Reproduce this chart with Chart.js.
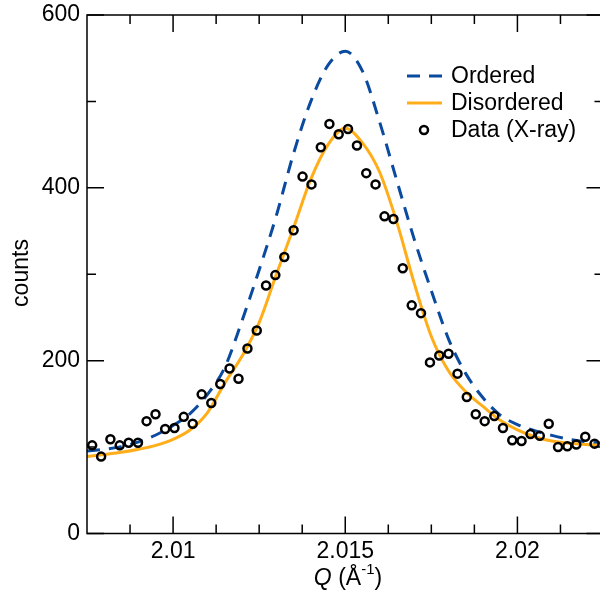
<!DOCTYPE html>
<html>
<head>
<meta charset="utf-8">
<title>Peak profile</title>
<script src="https://cdn.jsdelivr.net/npm/chart.js@4.4.1/dist/chart.umd.min.js"></script>
<style>
    html, body { margin: 0; padding: 0; background: #fff; overflow: hidden; }
    #wrap { position: relative; width: 610px; height: 603px; }
</style>
</head>
<body>
<div id="wrap"><canvas id="peakChart"></canvas></div>
<script>
// Measured diffraction counts (X-ray)
const qData = [
    2.00765, 2.00791, 2.00818, 2.00845, 2.00871, 2.00898, 2.00923, 2.00949, 2.00977, 2.01004,
    2.01031, 2.01057, 2.01083, 2.01111, 2.01137, 2.01164, 2.01190, 2.01216, 2.01243, 2.01270,
    2.01297, 2.01323, 2.01350, 2.01376, 2.01402, 2.01429, 2.01454, 2.01481, 2.01508, 2.01534,
    2.01561, 2.01588, 2.01614, 2.01640, 2.01667, 2.01693, 2.01720, 2.01746, 2.01773, 2.01800,
    2.01826, 2.01853, 2.01879, 2.01905, 2.01933, 2.01958, 2.01985, 2.02012, 2.02038, 2.02065,
    2.02091, 2.02118, 2.02145, 2.02171, 2.02197, 2.02224
];
const countsData = [
    102, 89, 109, 102, 105, 105, 130, 138, 121, 122,
    135, 127, 161, 151, 173, 191, 179, 214, 235, 287,
    299, 320, 351, 413, 404, 447, 474, 462, 468, 449,
    417, 404, 367, 364, 307, 264, 255, 198, 206, 208,
    185, 158, 138, 130, 136, 122, 108, 107, 115, 113,
    127, 100, 101, 103, 112, 104
];

// Model curves on a common Q grid
const qModel = [
    2.0075, 2.0080, 2.0085, 2.0090, 2.0095, 2.0100, 2.0105, 2.0110, 2.0115, 2.0120,
    2.0125, 2.0130, 2.0135, 2.0140, 2.0145, 2.0150, 2.0155, 2.0160, 2.0165, 2.0170,
    2.0175, 2.0180, 2.0185, 2.0190, 2.0195, 2.0200, 2.0205, 2.0210, 2.0215, 2.0220,
    2.0225
];
const orderedFit = [
    95.5, 97.5, 100.5, 106, 114, 125, 139, 161, 192, 246,
    305, 368, 440, 500, 542, 558, 535, 476, 408, 341,
    281, 225, 185, 157, 137, 126, 119, 113.5, 109, 106,
    104.5
];
const disorderedFit = [
    89, 91.5, 94, 97.5, 102, 109, 120, 140, 174, 205,
    244, 300, 354, 410, 450, 469, 452, 418, 360, 290,
    228, 188, 164, 147, 131, 120, 112, 107, 104.5, 103,
    102
];

// Axis ticks
const xMajor = [2.01, 2.015, 2.02];
const xLabels = ['2.01', '2.015', '2.02'];
const xMinor = [2.00875, 2.01125, 2.0125, 2.01375, 2.01625, 2.0175, 2.01875, 2.02125];
const yMajor = [0, 200, 400, 600];
const yMinor = [100, 300, 500];

const seriesNames = ['Ordered', 'Disordered', 'Data (X-ray)'];
const BLUE = '#0a4a9f';
const ORANGE = '#ffae1a';
const FONT = '"Liberation Sans", Arial, Helvetica, sans-serif';

const toPoints = (xs, ys) => xs.map((x, i) => ({ x: x, y: ys[i] }));

// Frame with inward ticks on all four sides, plus axis titles
const framePlugin = {
    id: 'frame',
    afterDatasetsDraw(chart) {
        const ctx = chart.ctx;
        const { left, right, top, bottom } = chart.chartArea;
        const xs = chart.scales.x;
        const ys = chart.scales.y;
        const MAJ = 17, MIN = 9;

        ctx.save();
        ctx.strokeStyle = '#000';
        ctx.lineWidth = 1.5;
        ctx.strokeRect(left, top, right - left, bottom - top);

        ctx.beginPath();
        const xTick = (v, len) => {
            const px = xs.getPixelForValue(v);
            ctx.moveTo(px, bottom); ctx.lineTo(px, bottom - len);
            ctx.moveTo(px, top); ctx.lineTo(px, top + len);
        };
        const yTick = (v, len) => {
            const py = ys.getPixelForValue(v);
            ctx.moveTo(left, py); ctx.lineTo(left + len, py);
            ctx.moveTo(right, py); ctx.lineTo(right - len, py);
        };
        xMajor.forEach(v => xTick(v, MAJ));
        xMinor.forEach(v => xTick(v, MIN));
        yMajor.forEach(v => yTick(v, MAJ));
        yMinor.forEach(v => yTick(v, MIN));
        ctx.stroke();

        // x title: Q (Å^-1)
        ctx.fillStyle = '#000';
        ctx.textBaseline = 'alphabetic';
        ctx.textAlign = 'left';
        const big = '23px ' + FONT;
        const sup = '15px ' + FONT;
        ctx.font = 'italic ' + big;
        const wQ = ctx.measureText('Q').width;
        ctx.font = big;
        const wA = ctx.measureText(' (Å').width;
        const wP = ctx.measureText(')').width;
        ctx.font = sup;
        const wS = ctx.measureText('-1').width;
        let x = 348 - (wQ + wA + wS + wP) / 2;
        const base = 585;
        ctx.font = 'italic ' + big;
        ctx.fillText('Q', x, base); x += wQ;
        ctx.font = big;
        ctx.fillText(' (Å', x, base); x += wA;
        ctx.font = sup;
        ctx.fillText('-1', x, base - 11); x += wS;
        ctx.font = big;
        ctx.fillText(')', x, base);

        // y title
        ctx.translate(22, 273);
        ctx.rotate(-Math.PI / 2);
        ctx.textAlign = 'center';
        ctx.textBaseline = 'middle';
        ctx.font = big;
        ctx.fillText('counts', 0, 0);
        ctx.restore();
    }
};

// Legend inside the plot, top right
const legendPlugin = {
    id: 'insideLegend',
    afterDraw(chart) {
        const ctx = chart.ctx;
        const x0 = 407, x1 = 442, tx = 451;
        const rows = [76, 103, 130];
        ctx.save();
        ctx.lineWidth = 3;

        ctx.strokeStyle = BLUE;
        ctx.setLineDash([13, 9]);
        ctx.beginPath(); ctx.moveTo(x0, rows[0]); ctx.lineTo(x1, rows[0]); ctx.stroke();

        ctx.strokeStyle = ORANGE;
        ctx.setLineDash([]);
        ctx.beginPath(); ctx.moveTo(x0, rows[1]); ctx.lineTo(x1, rows[1]); ctx.stroke();

        ctx.strokeStyle = '#000';
        ctx.lineWidth = 2.5;
        ctx.beginPath(); ctx.arc(424, rows[2], 4, 0, Math.PI * 2); ctx.stroke();

        ctx.fillStyle = '#000';
        ctx.font = '23px ' + FONT;
        ctx.textAlign = 'left';
        ctx.textBaseline = 'middle';
        seriesNames.forEach((name, i) => ctx.fillText(name, tx, rows[i] + 1));
        ctx.restore();
    }
};

new Chart(document.getElementById('peakChart'), {
    type: 'line',
    data: {
        datasets: [
            {
                label: seriesNames[2],
                type: 'scatter',
                data: toPoints(qData, countsData),
                showLine: false,
                pointStyle: 'circle',
                pointRadius: 4,
                pointBorderWidth: 2.5,
                borderColor: '#000',
                backgroundColor: 'rgba(0,0,0,0)',
                clip: false
            },
            {
                label: seriesNames[1],
                data: toPoints(qModel, disorderedFit),
                borderColor: ORANGE,
                borderWidth: 3,
                pointRadius: 0,
                cubicInterpolationMode: 'monotone',
                fill: false
            },
            {
                label: seriesNames[0],
                data: toPoints(qModel, orderedFit),
                borderColor: BLUE,
                borderWidth: 3,
                borderDash: [13, 9],
                pointRadius: 0,
                cubicInterpolationMode: 'monotone',
                fill: false
            }
        ]
    },
    options: {
        responsive: true,
        maintainAspectRatio: false,
        animation: false,
        events: [],
        layout: { padding: { left: 0, right: 5.5, top: 15, bottom: 0 } },
        plugins: {
            legend: { display: false },
            tooltip: { enabled: false }
        },
        scales: {
            x: {
                type: 'linear',
                min: 2.0075,
                max: 2.0225,
                grid: { display: false, drawTicks: false },
                border: { display: false },
                afterBuildTicks: scale => { scale.ticks = xMajor.map(v => ({ value: v })); },
                afterFit: scale => {
                    scale.height = 69.5;
                    scale.paddingLeft = 0;
                    scale.paddingRight = 0;
                },
                ticks: {
                    autoSkip: false,
                    maxRotation: 0,
                    padding: 4,
                    color: '#000',
                    font: { family: FONT, size: 23 },
                    callback: (v, i) => xLabels[i]
                }
            },
            y: {
                type: 'linear',
                min: 0,
                max: 600,
                grid: { display: false, drawTicks: false },
                border: { display: false },
                afterBuildTicks: scale => { scale.ticks = yMajor.map(v => ({ value: v })); },
                afterFit: scale => {
                    scale.width = 87;
                    scale.paddingTop = 0;
                    scale.paddingBottom = 0;
                },
                ticks: {
                    padding: 7,
                    color: '#000',
                    font: { family: FONT, size: 23 }
                }
            }
        }
    },
    plugins: [framePlugin, legendPlugin]
});
</script>
</body>
</html>
